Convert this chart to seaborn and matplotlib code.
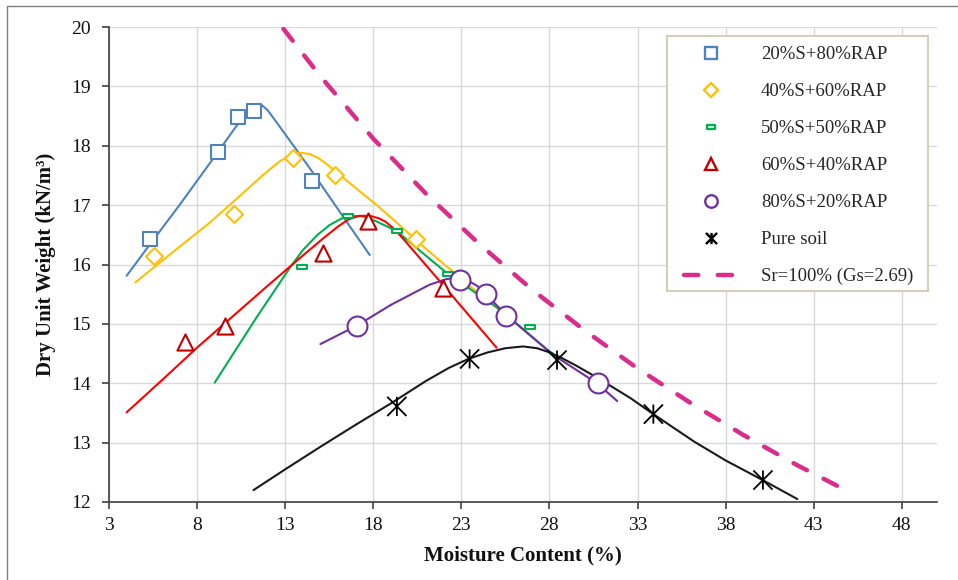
import pandas as pd
import seaborn as sns
from matplotlib import pyplot as plt
from matplotlib.lines import Line2D
from matplotlib.markers import MarkerStyle
from matplotlib.patches import Rectangle
from matplotlib.path import Path

# measured compaction points (moisture %, dry unit weight kN/m3)
s20_w = [5.33, 9.16, 10.31, 11.24, 14.51]
s20_g = [16.43, 17.89, 18.49, 18.59, 17.41]
s40_w = [5.58, 10.10, 13.47, 15.84, 20.44]
s40_g = [16.15, 16.85, 17.80, 17.51, 16.43]
s50_w = [13.94, 16.56, 19.34, 22.24, 26.92]
s50_g = [15.96, 16.81, 16.57, 15.84, 14.94]
s60_w = [7.32, 9.60, 15.12, 17.73, 21.94]
s60_g = [14.69, 14.97, 16.19, 16.74, 15.60]
s80_w = [17.07, 22.94, 24.42, 25.52, 30.74]
s80_g = [14.97, 15.74, 15.50, 15.13, 14.00]
soil_w = [19.34, 23.47, 28.43, 33.90, 40.12]
soil_g = [13.61, 14.41, 14.39, 13.48, 12.37]

# fitted curves
fit20_w = [4.0, 5.3, 7.0, 9.1, 10.3, 10.9, 11.3, 11.65, 12.0, 12.5, 14.4, 16.3, 17.8]
fit20_g = [15.81, 16.33, 17.00, 17.86, 18.36, 18.56, 18.65, 18.69, 18.6, 18.4, 17.62, 16.80, 16.16]
fit40_w = [4.5, 6.8, 8.7, 10.6, 11.6, 12.2, 12.7, 13.2, 13.6, 13.94, 14.4, 14.9, 15.4, 16.3,
           17.2, 18.2, 19.2, 20.1, 21.2, 22.4, 23.5, 24.7, 25.5]
fit40_g = [15.70, 16.25, 16.70, 17.20, 17.47, 17.62, 17.74, 17.82, 17.87, 17.88, 17.86, 17.79, 17.68, 17.46,
           17.24, 17.00, 16.74, 16.50, 16.21, 15.91, 15.63, 15.35, 15.15]
fit50_w = [9.0, 11.4, 13.3, 14.0, 14.8, 15.5, 16.1, 16.5, 16.9, 17.4, 18.0, 19.0, 19.5, 20.9,
           22.2, 25.2, 27.9, 28.2]
fit50_g = [14.01, 15.12, 15.96, 16.24, 16.49, 16.66, 16.76, 16.81, 16.82, 16.81, 16.75, 16.61, 16.52, 16.17,
           15.85, 15.24, 14.56, 14.50]
fit60_w = [4.0, 6.0, 8.0, 10.0, 12.0, 14.0, 15.2, 16.0, 16.6, 17.2, 17.8, 18.3, 18.7, 19.1,
           19.5, 20.0, 20.9, 21.8, 25.0]
fit60_g = [13.51, 14.05, 14.60, 15.12, 15.64, 16.15, 16.45, 16.64, 16.76, 16.82, 16.82, 16.78, 16.72, 16.62,
           16.50, 16.33, 16.02, 15.71, 14.60]
fit80_w = [15.0, 17.07, 19.0, 21.2, 22.1, 22.7, 23.3, 23.9, 24.4, 25.5, 28.2, 30.7, 31.85]
fit80_g = [14.66, 14.97, 15.32, 15.66, 15.75, 15.78, 15.74, 15.64, 15.50, 15.16, 14.48, 14.00, 13.70]
fitsoil_w = [11.2, 13.0, 15.0, 17.0, 19.0, 21.0, 22.3, 23.4, 24.5, 25.5, 26.5, 27.3, 28.0, 28.6,
             29.5, 30.5, 31.5, 32.6, 33.8, 35.0, 36.2, 38.0, 40.1, 42.07]
fitsoil_g = [12.20, 12.55, 12.93, 13.30, 13.66, 14.04, 14.26, 14.41, 14.52, 14.59, 14.62, 14.59, 14.52, 14.44,
             14.30, 14.13, 13.95, 13.75, 13.50, 13.26, 13.02, 12.70, 12.37, 12.05]

# zero air voids line, Sr = 100 %
sat_w = [12.9, 15, 18, 21, 24, 27, 30, 33, 36, 39, 42, 45.2]
sat_g = [19.97, 19.17, 18.12, 17.19, 16.35, 15.58, 14.89, 14.25, 13.67, 13.13, 12.63, 12.14]

labels = ["20%S+80%RAP", "40%S+60%RAP", "50%S+50%RAP", "60%S+40%RAP", "80%S+20%RAP", "Pure soil"]
sat_label = "Sr=100% (Gs=2.69)"

RECT = Path([(-1, -0.4), (1, -0.4), (1, 0.4), (-1, 0.4), (-1, -0.4)],
            [Path.MOVETO, Path.LINETO, Path.LINETO, Path.LINETO, Path.CLOSEPOLY])
STAR = Path([(0, -1), (0, 1), (-1, -1), (1, 1), (-1, 1), (1, -1)],
            [Path.MOVETO, Path.LINETO] * 3)

series = [
    # points, fit, marker colour, line colour, marker, size, legend size
    (s20_w, s20_g, fit20_w, fit20_g, "#4F81BD", "#4F81BD", "s", 105, 9),
    (s40_w, s40_g, fit40_w, fit40_g, "#FFC000", "#FFC000", "D", 75, 7),
    (s50_w, s50_g, fit50_w, fit50_g, "#00B050", "#00B050", RECT, 55, 6),
    (s60_w, s60_g, fit60_w, fit60_g, "#C00000", "#FF0000", "^", 135, 9),
    (s80_w, s80_g, fit80_w, fit80_g, "#7030A0", "#7030A0", "o", 205, 9),
    (soil_w, soil_g, fitsoil_w, fitsoil_g, "#000000", "#1A1A1A", STAR, 190, 8),
]

sns.set_theme(style="whitegrid")
plt.rcParams["font.family"] = ["Liberation Serif", "DejaVu Serif"]

fig = plt.figure(figsize=(9.58, 5.8), dpi=100)
ax = fig.add_axes([109 / 958, 1 - 502 / 580, 828 / 958, 475 / 580])

handles = []
for (pw, pg, fw, fg, mcol, lcol, mk, size, lsize), name in zip(series, labels):
    fit_df = pd.DataFrame({"w": fw, "g": fg})
    sns.lineplot(data=fit_df, x="w", y="g", sort=False, estimator=None,
                 color=lcol, lw=1.5, ax=ax, legend=False, zorder=2)
    pts = pd.DataFrame({"w": pw, "g": pg})
    sns.scatterplot(data=pts, x="w", y="g", marker=MarkerStyle(mk), s=size,
                    color=mcol, facecolor="white" if mk is not STAR else "none",
                    edgecolor=mcol, linewidth=1.5 if mk is not STAR else 1.3, ax=ax, zorder=4)
    handles.append(Line2D([], [], ls="none", marker=mk, ms=lsize, mew=1.7,
                          mec=mcol, mfc="white", label=name))

sat_df = pd.DataFrame({"w": sat_w, "g": sat_g})
sns.lineplot(data=sat_df, x="w", y="g", sort=False, estimator=None, color="#DB2C8C",
             lw=3.2, linestyle=(0, (3.4, 4.2)), dash_capstyle="round",
             ax=ax, legend=False, zorder=3)
handles.append(Line2D([], [], color="#DB2C8C", lw=3.2, linestyle=(0, (3.2, 4.4)),
                      dash_capstyle="round", label=sat_label))

ax.set_xlim(3, 50)
ax.set_ylim(12, 20)
ax.set_xticks(range(3, 49, 5))
ax.set_yticks(range(12, 21))
ax.grid(True, color="#D9D9D9", lw=1)
for side in ("top", "right"):
    ax.spines[side].set_visible(False)
for side in ("left", "bottom"):
    ax.spines[side].set_color("#404040")
    ax.spines[side].set_linewidth(1.2)
ax.tick_params(axis="both", direction="out", length=5, width=1.2, color="#404040",
               labelsize=14, labelcolor="#111111", left=True, bottom=True)
ax.tick_params(axis="y", pad=8)
ax.tick_params(axis="x", pad=6)

ax.set_xlabel("Moisture Content (%)", fontsize=15, fontweight="bold", color="#111111")
ax.set_ylabel("Dry Unit Weight (kN/m³)", fontsize=15, fontweight="bold", color="#111111")
ax.xaxis.set_label_coords(0.5, -0.092)
ax.yaxis.set_label_coords(-0.064, 0.5)

# legend box drawn on its own, entries placed inside it
fig.add_artist(Rectangle((667 / 958, 1 - 291 / 580), 261 / 958, 255 / 580,
                         transform=fig.transFigure, facecolor="white",
                         edgecolor="#D4D0B8", lw=1.5, zorder=1))
fig.legend(handles=handles, loc="upper left", bbox_to_anchor=(684 / 958, 1 - 46 / 580),
           bbox_transform=fig.transFigure, borderaxespad=0, borderpad=0, fontsize=13.5,
           frameon=False, labelspacing=1.06, handlelength=2.9, handletextpad=1.2)

# outer frame of the figure
fig.add_artist(Line2D([7 / 958, 1], [1 - 6 / 580] * 2, transform=fig.transFigure,
                      color="#808080", lw=1))
fig.add_artist(Line2D([7 / 958] * 2, [0, 1 - 6 / 580], transform=fig.transFigure,
                      color="#808080", lw=1))

fig.savefig("out.png", dpi=100, facecolor="white")
